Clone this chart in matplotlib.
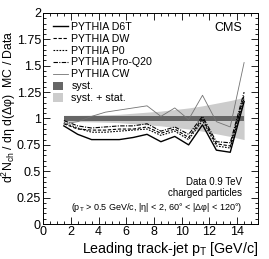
import numpy as np
import matplotlib
matplotlib.use("Agg")
import matplotlib.pyplot as plt
from matplotlib.patches import Patch, Rectangle
from matplotlib.legend_handler import HandlerPatch
from matplotlib.ticker import MultipleLocator

plt.rcParams["font.family"] = ["Liberation Sans", "DejaVu Sans"]
plt.rcParams["mathtext.fontset"] = "custom"
plt.rcParams["mathtext.rm"] = "Liberation Sans"
plt.rcParams["mathtext.it"] = "Liberation Sans:italic"
plt.rcParams["mathtext.bf"] = "Liberation Sans:bold"

# leading track-jet pT bin centres
pt = [1.5, 2.5, 3.5, 4.5, 5.5, 6.5, 7.5, 8.5, 9.5, 10.5, 11.5, 12.5, 13.5, 14.5]

d6t = [0.93, 0.85, 0.80, 0.80, 0.80, 0.82, 0.85, 0.78, 0.83, 0.75, 0.94, 0.70, 0.68, 1.16]
dw = [0.95, 0.90, 0.89, 0.89, 0.90, 0.90, 0.92, 0.86, 0.90, 0.82, 1.00, 0.76, 0.74, 1.22]
p0 = [0.96, 0.91, 0.87, 0.87, 0.88, 0.89, 0.90, 0.84, 0.88, 0.80, 0.98, 0.74, 0.72, 1.19]
proq20 = [0.98, 0.93, 0.91, 0.92, 0.93, 0.93, 0.95, 0.88, 0.92, 0.85, 1.02, 0.78, 0.77, 1.25]
cw = [0.95, 0.97, 1.02, 1.06, 1.08, 1.10, 1.12, 1.02, 1.10, 0.99, 1.22, 0.97, 0.92, 1.53]

syst_err = [0.025] * 14
tot_err = [0.03, 0.03, 0.032, 0.035, 0.04, 0.05, 0.06, 0.07, 0.085, 0.10, 0.12, 0.145, 0.17, 0.20]


class SmallBox(HandlerPatch):
    # narrower filled box, like the ROOT legend
    def create_artists(self, legend, orig_handle, xdescent, ydescent,
                       width, height, fontsize, trans):
        r = Rectangle((-xdescent, -ydescent - 0.1 * height), 0.65 * width, 1.1 * height,
                      facecolor=orig_handle.get_facecolor(), lw=0, transform=trans)
        return [r]


pt = np.array(pt)
ones = np.ones_like(pt)

fig = plt.figure(figsize=(2.69, 2.59), dpi=100)
ax = fig.add_axes([0.16, 0.135, 0.799, 0.815])

ax.fill_between(pt, ones - np.array(tot_err), ones + np.array(tot_err),
                color="0.8", lw=0, zorder=1)
ax.fill_between(pt, ones - np.array(syst_err), ones + np.array(syst_err),
                color="0.4", lw=0, zorder=2)

ax.plot(pt, d6t, color="k", lw=1.0, ls="-", zorder=3)
ax.plot(pt, dw, color="k", lw=0.8, ls=(0, (3, 1.5)), zorder=3)
ax.plot(pt, p0, color="k", lw=0.8, ls=(0, (1.5, 1.2)), zorder=3)
ax.plot(pt, proq20, color="k", lw=0.8, ls=(0, (4, 1.2, 1, 1.2)), zorder=3)
ax.plot(pt, cw, color="0.45", lw=0.6, ls="-", zorder=3)

ax.set_xlim(0, 15.5)
ax.set_ylim(0, 2)
ax.xaxis.set_major_locator(MultipleLocator(2))
ax.xaxis.set_minor_locator(MultipleLocator(0.5))
ax.yaxis.set_major_locator(MultipleLocator(0.25))
ax.yaxis.set_minor_locator(MultipleLocator(0.05))
ax.set_yticks([0, 0.25, 0.5, 0.75, 1, 1.25, 1.5, 1.75, 2])
ax.set_yticklabels(["0", "0.25", "0.5", "0.75", "1", "1.25", "1.5", "1.75", "2"])
ax.tick_params(which="both", direction="in", top=True, right=True, labelsize=9, pad=1.5)
ax.tick_params(which="major", length=5, width=0.6)
ax.tick_params(which="minor", length=2.5, width=0.6)
for s in ax.spines.values():
    s.set_linewidth(0.7)

ax.set_xlabel(r"Leading track-jet p$_\mathregular{T}$ [GeV/c]", fontsize=10.3,
              loc="right", labelpad=1)
ax.set_ylabel(r"d$^\mathregular{2}$N$_\mathregular{ch}$ / dη d(Δφ)  MC / Data",
              fontsize=8.8, loc="top")
ax.yaxis.set_label_coords(-0.116, 0.92)

handles = [
    plt.Line2D([], [], color="k", lw=1.0, ls="-"),
    plt.Line2D([], [], color="k", lw=0.8, ls=(0, (3, 1.5))),
    plt.Line2D([], [], color="k", lw=0.8, ls=(0, (1.5, 1.2))),
    plt.Line2D([], [], color="k", lw=0.8, ls=(0, (4, 1.2, 1, 1.2))),
    plt.Line2D([], [], color="0.45", lw=0.6, ls="-"),
    Patch(color="0.4"),
    Patch(color="0.8"),
]
labels = ["PYTHIA D6T", "PYTHIA DW", "PYTHIA P0", "PYTHIA Pro-Q20", "PYTHIA CW",
          "syst.", "syst. + stat."]
ax.legend(handles, labels, loc="upper left", bbox_to_anchor=(0.047, 0.957),
          frameon=False, fontsize=7.7, labelspacing=0.17, handlelength=1.4,
          handleheight=0.7, handletextpad=0.3, borderpad=0, borderaxespad=0,
          handler_map={Patch: SmallBox()})

ax.text(0.925, 0.93, "CMS", transform=ax.transAxes, ha="right", va="center", fontsize=9)
ax.text(0.925, 0.2, "Data 0.9 TeV", transform=ax.transAxes, ha="right", va="center",
        fontsize=7)
ax.text(0.925, 0.147, "charged particles", transform=ax.transAxes, ha="right",
        va="center", fontsize=7)
ax.text(0.925, 0.076,
        r"(p$_\mathregular{T}$ > 0.5 GeV/c, |η| < 2, 60° < |Δφ| < 120°)",
        transform=ax.transAxes, ha="right", va="center", fontsize=6.5)

fig.savefig("out.png", dpi=100)
